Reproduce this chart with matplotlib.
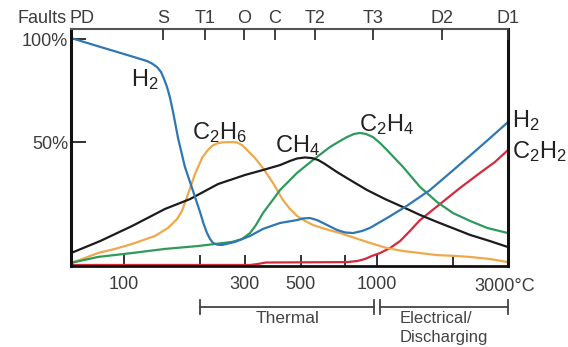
import matplotlib
matplotlib.use("Agg")
import matplotlib.pyplot as plt

plt.rcParams['font.family'] = ['Liberation Sans', 'DejaVu Sans']
plt.rcParams['mathtext.fontset'] = 'custom'
plt.rcParams['mathtext.rm'] = 'Liberation Sans'
plt.rcParams['mathtext.it'] = 'Liberation Sans:italic'

# temperature (deg C) vs relative gas amount (%)
h2_t = [61.7, 80.4, 96.4, 110.5, 123.3, 129, 135, 140, 143.9, 147.9, 152, 156.2, 163.5,
        174, 187.4, 199.7, 207, 212.8, 218.8, 224.8, 233.1, 243.8, 274.6, 314.8, 354,
        413.7, 482.9, 510, 543, 579.5, 623, 695, 747, 803.7, 872.4, 938, 1095, 1290,
        1620, 1943, 2332, 2797, 3295]
h2_v = [100.5, 96.2, 93.3, 91.1, 89.3, 88.1, 86.4, 84, 80.6, 76.7, 71.4, 64.6, 51.9,
        37.9, 26.2, 16, 9.7, 5.8, 2.9, 1, 0.2, 0, 1.5, 4.4, 7.8,
        10.7, 12.1, 12.9, 13.1, 12.1, 10.2, 7.3, 6.1, 5.8, 6.8, 8.3, 13.1, 18.4,
        26.7, 35, 43.4, 51.9, 59.7]

ch4_t = [61.7, 80.4, 107.5, 145.2, 182.3, 235.3, 300.8, 354, 413.7, 453, 482.9, 519,
         553, 584.6, 623, 695, 782, 913, 1076, 1267, 1479, 1726, 2032, 2332, 2797, 3295]
ch4_v = [-3.9, 1.9, 9.2, 17.5, 22.3, 29.6, 34, 36.4, 38.8, 40.8, 42, 42.5,
         42.2, 41.3, 39.3, 35.4, 31.6, 26.7, 22.3, 18.4, 14.6, 11.2, 7.8, 4.9, 1.9, -1]

c2h6_t = [61.7, 70.1, 78.9, 92.1, 107.5, 132.6, 149.3, 162, 169.4, 179.1, 190.8, 203.3,
          212.8, 222.6, 233.1, 243.8, 262.3, 279.6, 292.7, 306.4, 329.5, 354, 388, 425,
          453, 482.9, 519, 558.6, 623, 714, 818, 938, 1095, 1267, 1479, 1726, 2032,
          2332, 2797, 3295]
c2h6_v = [-8.7, -6.3, -3.9, -1.9, 0.5, 4.4, 8.3, 12.6, 16.5, 24.8, 34.5, 42.2,
          45.6, 48.1, 49.3, 49.8, 50, 49.8, 48.5, 46.1, 42.2, 37.4, 30.1, 21.8,
          17.5, 14.1, 11.7, 9.7, 7.8, 5.8, 3.4, 1, -1.5, -2.9, -3.9, -4.9, -5.3,
          -5.8, -6.8, -8.3]

c2h4_t = [61.7, 78.9, 107.5, 145.2, 196.1, 267.3, 292.7, 314.8, 332.4, 354, 384.6, 413.7,
          482.9, 558.6, 652, 714, 760.5, 811, 857, 904.6, 964, 1028, 1095, 1267, 1479,
          1726, 1997, 2332, 2722, 3295]
c2h4_v = [-8.7, -5.8, -3.9, -1.9, -0.5, 1.5, 2.9, 5.8, 9.7, 15.5, 21.4, 26.7,
          35, 41.3, 47.6, 50.5, 52.4, 53.9, 54.4, 53.9, 52.4, 49.5, 46.1, 37.9, 28.2,
          20.9, 15.5, 11.7, 8.3, 5.8]

c2h2_t = [61.7, 314.8, 338.5, 363.9, 760.5, 833.7, 897, 955, 1028, 1125, 1233, 1349,
          1479, 1775, 2128, 2553, 2925, 3295]
c2h2_v = [-9.7, -9.7, -9.2, -8.5, -8.3, -7.8, -6.8, -5.3, -3.9, -1.5, 1.9, 6.8,
          12.1, 19.9, 27.7, 35, 40.3, 46.1]

temp_ticks = [100, 200, 300, 500, 750, 1000, 2000]
temp_labels = ['100', '', '300', '500', '', '1000', '']
fault_t = [142.6, 209, 298, 395, 569, 964, 1812, 3295]
fault_labels = ['S', 'T1', 'O', 'C', 'T2', 'T3', 'D2', 'D1']

fig = plt.figure(figsize=(5.68, 3.47), dpi=100)
ax = fig.add_axes([0.125, 0.2334, 0.7694, 0.6844])
ax.set_xscale('log')
ax.set_xlim(61.7, 3295)
ax.set_ylim(-10.2, 105.1)

lw = 1.6
line_kw = dict(lw=lw, solid_joinstyle='round', solid_capstyle='round')
ax.plot(c2h2_t, c2h2_v, color='#d42a3c', **line_kw)
ax.plot(c2h6_t, c2h6_v, color='#eda94c', **line_kw)
ax.plot(c2h4_t, c2h4_v, color='#2f9a5c', **line_kw)
ax.plot(ch4_t, ch4_v, color='#1c1c1c', **line_kw)
ax.plot(h2_t, h2_v, color='#2e77b3', **line_kw)

for side, w, c in [('left', 2.2, '#111111'), ('bottom', 2.0, '#111111'),
                   ('right', 2.2, '#111111'), ('top', 1.5, '#555555')]:
    ax.spines[side].set_linewidth(w)
    ax.spines[side].set_color(c)

fs = 13
tc = '#3c3c3c'
ax.xaxis.set_minor_locator(matplotlib.ticker.NullLocator())
ax.set_xticks(temp_ticks)
ax.set_xticklabels(temp_labels)
ax.tick_params(axis='x', direction='in', length=8, width=1.3, pad=7,
               labelsize=fs, labelcolor=tc, color='#222222')
ax.set_yticks([50, 100])
ax.set_yticklabels(['50%', '100%'])
ax.tick_params(axis='y', direction='in', length=11, width=1.3, pad=2,
               labelsize=fs, labelcolor=tc, color='#222222')

xt = ax.get_xaxis_transform()
ax.annotate('3000°C', xy=(3000, 0), xycoords=xt, xytext=(7, -20),
            textcoords='offset pixels', ha='center', va='center',
            fontsize=fs, color=tc, annotation_clip=False)

# fault codes along the top
top = ax.twiny()
top.set_xscale('log')
top.set_xlim(ax.get_xlim())
top.xaxis.set_minor_locator(matplotlib.ticker.NullLocator())
top.set_xticks(fault_t)
top.set_xticklabels(fault_labels)
top.tick_params(axis='x', direction='in', length=8, width=1.3, pad=1,
                labelsize=fs, labelcolor=tc, color='#333333')
for s in top.spines.values():
    s.set_visible(False)
ax.annotate('PD', xy=(68.2, 1), xycoords=xt, xytext=(0, 10),
            textcoords='offset pixels', ha='center', va='center',
            fontsize=fs, color=tc, annotation_clip=False)
ax.annotate('Faults', xy=(61.7, 1), xycoords=xt, xytext=(-4, 10),
            textcoords='offset pixels', ha='right', va='center',
            fontsize=fs, color=tc, annotation_clip=False)

# gas labels
gfs = 17
lab = dict(fontsize=gfs, color='#222222', ha='center', va='center')
ax.text(121, 80.1, 'H$_2$', **lab)
ax.text(237.4, 54.4, 'C$_2$H$_6$', **lab)
ax.text(487, 48.5, 'CH$_4$', **lab)
ax.text(1095, 58.7, 'C$_2$H$_4$', **lab)
ax.annotate('H$_2$', xy=(3295, 60.5), xytext=(4, 0), textcoords='offset pixels',
            ha='left', va='center', fontsize=gfs, color='#222222', annotation_clip=False)
ax.annotate('C$_2$H$_2$', xy=(3295, 45.5), xytext=(4, 0), textcoords='offset pixels',
            ha='left', va='center', fontsize=gfs, color='#222222', annotation_clip=False)

# thermal / electrical ranges under the axis
yb = -0.1726
kw = dict(transform=xt, color='#444444', lw=1.3, clip_on=False)
ax.plot([199.7, 975], [yb, yb], **kw)
ax.plot([199.7, 199.7], [yb + 0.03, yb - 0.03], **kw)
ax.plot([975, 975], [yb + 0.03, yb - 0.03], **kw)
ax.plot([1028, 1028], [yb + 0.03, yb - 0.03], **kw)
ax.plot([1028, 3295], [yb, yb], **kw)
ax.plot([3295, 3295], [yb + 0.03, yb - 0.03], **kw)
ax.text(444, -0.221, 'Thermal', transform=xt, ha='center', va='center',
        fontsize=12.5, color='#444444')
ax.text(1233, -0.219, 'Electrical/', transform=xt, ha='left', va='center',
        fontsize=12, color='#444444')
ax.text(1233, -0.299, 'Discharging', transform=xt, ha='left', va='center',
        fontsize=12, color='#444444')

fig.savefig('out.png', dpi=100)
